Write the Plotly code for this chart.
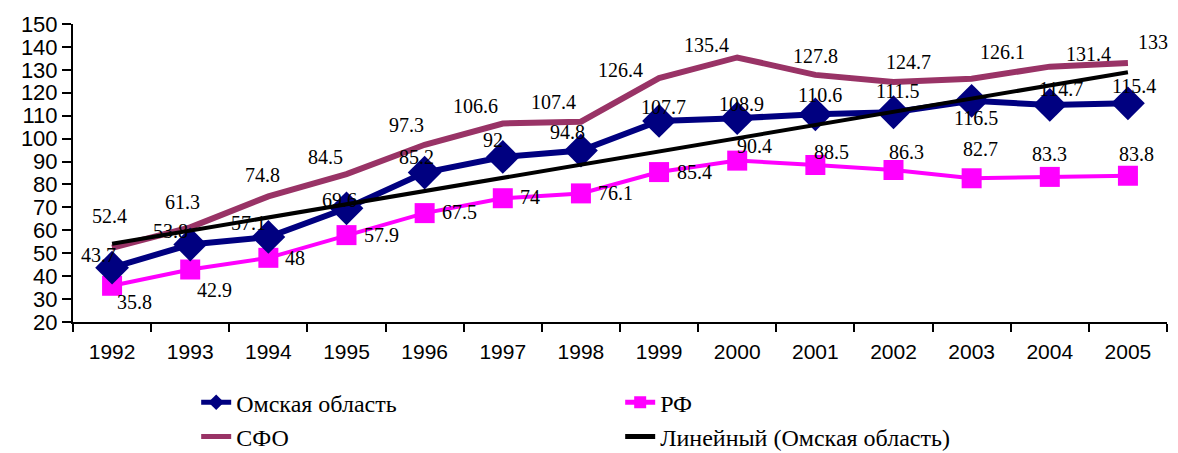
import numpy as np
import plotly.graph_objects as go

# Years on the category axis
years = ["1992", "1993", "1994", "1995", "1996", "1997", "1998",
         "1999", "2000", "2001", "2002", "2003", "2004", "2005"]

# Index values per region
omsk = [43.7, 53.8, 57.1, 69.6, 85.2, 92, 94.8, 107.7, 108.9, 110.6, 111.5, 116.5, 114.7, 115.4]
rf = [35.8, 42.9, 48, 57.9, 67.5, 74, 76.1, 85.4, 90.4, 88.5, 86.3, 82.7, 83.3, 83.8]
sfo = [52.4, 61.3, 74.8, 84.5, 97.3, 106.6, 107.4, 126.4, 135.4, 127.8, 124.7, 126.1, 131.4, 133]

y_ticks = list(range(20, 151, 10))

# Linear trend of the Omsk series (least squares over year index)
idx = np.arange(len(years))
slope, intercept = np.polyfit(idx, omsk, 1)
trend = slope * idx + intercept

# Pixel offsets (dx right, dy down) of each value label from its point
omsk_off = [(-14, -13), (-20, -14), (-20, -14), (-7, -8), (-8, -16), (-10, -17), (-13, -19),
            (4, -14), (4, -14), (5, -19), (4, -21), (4, 17), (11, -16), (6, -17)]
rf_off = [(22, 16), (24, 20), (27, 0), (35, 0), (35, -1), (27, -1), (35, 0),
          (35, 0), (17, -15), (16, -13), (13, -18), (9, -29), (0, -23), (9, -22)]
sfo_off = [(-3, -32), (-8, -25), (-6, -21), (-21, -17), (-18, -20), (-27, -17), (-27, -20),
           (-39, -8), (-31, -12), (0, -19), (15, -20), (31, -27), (39, -13), (25, -21)]

SERIF = "Liberation Serif, Times New Roman, serif"
SANS = "Liberation Sans, Arial, sans-serif"

fig = go.Figure()

fig.add_trace(go.Scatter(
    x=years, y=sfo, name="СФО", mode="lines",
    line=dict(color="#993366", width=6), legendrank=3,
))
fig.add_trace(go.Scatter(
    x=years, y=rf, name="РФ", mode="lines+markers",
    line=dict(color="#FF00FF", width=4),
    marker=dict(symbol="square", size=20, color="#FF00FF"), legendrank=2,
))
fig.add_trace(go.Scatter(
    x=years, y=omsk, name="Омская область", mode="lines+markers",
    line=dict(color="#000080", width=6),
    marker=dict(symbol="diamond", size=26, color="#000080"), legendrank=1,
))
fig.add_trace(go.Scatter(
    x=years, y=trend, name="Линейный (Омская область)", mode="lines",
    line=dict(color="#000000", width=4), legendrank=4,
))


def fmt(v):
    return f"{v:g}"


# Value labels; x is given as the category index so year names are not read as numbers
annotations = []
for series, offs in ((sfo, sfo_off), (omsk, omsk_off), (rf, rf_off)):
    for i, (v, (dx, dy)) in enumerate(zip(series, offs)):
        annotations.append(dict(
            x=i, y=v, xref="x", yref="y", text=fmt(v), showarrow=False,
            xanchor="center", yanchor="middle",
            xshift=dx, yshift=-dy,
            font=dict(family=SERIF, size=20, color="#000000"),
        ))

fig.update_layout(
    width=1178, height=453,
    margin=dict(l=73, r=11, t=24, b=131, autoexpand=False),
    paper_bgcolor="white", plot_bgcolor="white",
    showlegend=True,
    legend=dict(
        orientation="h", x=0.1126, xanchor="left", y=-0.195, yanchor="top",
        entrywidth=379, entrywidthmode="pixels", itemsizing="constant",
        font=dict(family=SERIF, size=24, color="#000000"),
        bgcolor="rgba(0,0,0,0)", tracegroupgap=0, itemwidth=30,
    ),
    annotations=annotations,
    xaxis=dict(
        type="category", categoryorder="array", categoryarray=years,
        range=[-0.5, len(years) - 0.5],
        showline=True, linecolor="#000000", linewidth=2,
        ticks="outside", tickson="boundaries", ticklen=8, tickwidth=2, tickcolor="#000000",
        tickfont=dict(family=SANS, size=21, color="#000000"),
        ticklabelstandoff=10,
        showgrid=False, zeroline=False, automargin=False,
    ),
    yaxis=dict(
        range=[20, 150], tickvals=y_ticks,
        showline=True, linecolor="#000000", linewidth=2,
        ticks="outside", ticklen=9, tickwidth=2, tickcolor="#000000",
        tickfont=dict(family=SANS, size=22, color="#000000"),
        showgrid=False, zeroline=False, automargin=False,
    ),
)

fig.write_html("out.html")
